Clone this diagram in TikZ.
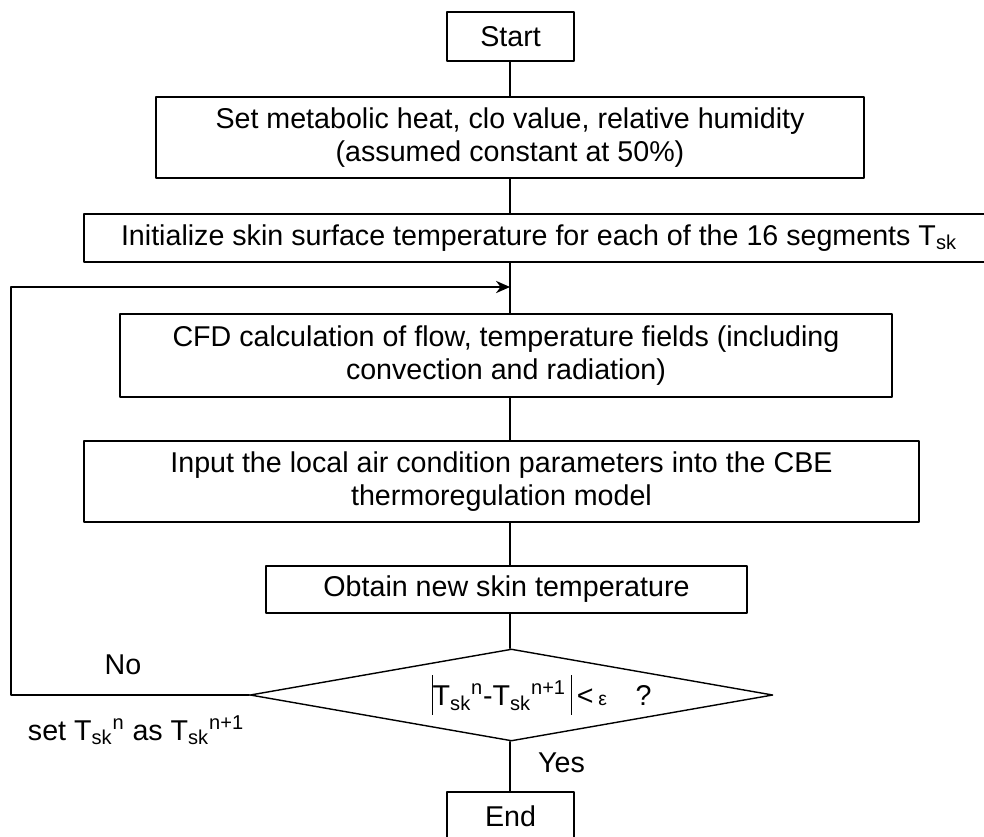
\documentclass[tikz,border=0pt]{standalone}
\usepackage{fontspec}
\setmainfont{Liberation Sans}
\usepackage{tikz}
\usetikzlibrary{arrows.meta, shapes.geometric, positioning}

% tall bar for the absolute value in the test
\newcommand{\absbar}{\rule[-0.32em]{0.7pt}{1.38em}}

\begin{document}
\begin{tikzpicture}[x=0.02cm, y=-0.02cm, line cap=round, line join=round, >={Stealth[length=8pt,width=7pt]},
    every node/.style={font=\fontsize{16.3}{18.8}\selectfont},
    box/.style 2 args={draw, line width=0.8pt, inner sep=0pt, align=center, minimum width=#1, minimum height=#2},
    decision/.style={draw, diamond, line width=0.8pt, inner sep=0pt, aspect=5.68, minimum width=10.46cm, minimum height=1.84cm},
    flow/.style={line width=0.8pt}]
    	\path[use as bounding box] (0,0) rectangle (984,836);
    	\clip (0,0) rectangle (984,836);

    	\coordinate (spine) at (510,0);
    	\coordinate (join) at (510,287);
    	\coordinate (turn) at (11,287);

    	% boxes of the loop, top to bottom
    	\node[box={2.54cm}{0.98cm}] (start) at (510.5,36.5) {Start};
    	\node[box={14.16cm}{1.62cm}] (setparam) at (510,137.5) {Set metabolic heat, clo value, relative humidity\\(assumed constant at 50\%)};
    	\node[box={18.2cm}{0.96cm}] (init) at (539,238) {Initialize skin surface temperature for each of the 16 segments T\textsubscript{sk}};
    	\node[box={15.44cm}{1.66cm}] (cfd) at (506,355.5) {CFD calculation of flow, temperature fields (including\\convection and radiation)};
    	\node[box={16.7cm}{1.62cm}] (input) at (501.5,481.5) {Input the local air condition parameters into the CBE\\thermoregulation model};
    	\node[box={9.62cm}{0.94cm}] (obtain) at (506.5,589.5) {Obtain new skin temperature};
    	\node[decision] (check) at (511.5,695) {\hspace*{1.2cm}\absbar T\textsubscript{sk}\textsuperscript{n}-T\textsubscript{sk}\textsuperscript{n+1}\,\absbar\,<\,{\fontsize{11}{12}\selectfont ε}\quad ?};
    	\node[box={2.54cm}{0.98cm}] (end) at (510.5,816.5) {End};

    	% labels on the two exits
    	\node (no) at (123,665) {No};
    	\node (update) at (136,730) {set T\textsubscript{sk}\textsuperscript{n} as T\textsubscript{sk}\textsuperscript{n+1}};
    	\node[anchor=west] (yes) at (532,763) {Yes};

    	\draw [flow] (spine |- start.south)--(spine |- setparam.north);
    	\draw [flow] (spine |- setparam.south)--(spine |- init.north);
    	\draw [flow] (spine |- init.south)--(spine |- cfd.north);
    	\draw [flow] (spine |- cfd.south)--(spine |- input.north);
    	\draw [flow] (spine |- input.south)--(spine |- obtain.north);
    	\draw [flow] (spine |- obtain.south)--(spine |- check.north);
    	\draw [flow] (spine |- check.south)--(spine |- end.north);

    	% back to the CFD step
    	\draw [flow,->] (check.west) -| (turn) -- (join);
    \end{tikzpicture}
\end{document}
